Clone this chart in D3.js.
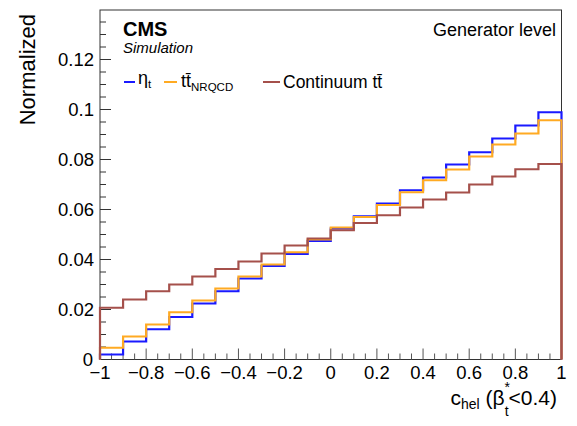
<!DOCTYPE html>
<html><head><meta charset="utf-8">
<script src="https://cdn.jsdelivr.net/npm/d3@7"></script>
<style>body{margin:0;background:#fff}svg{display:block;font-family:"Liberation Sans",Arial,sans-serif}</style>
</head><body><svg id="c" width="577" height="426"></svg>
<script>
const binEdges = d3.range(21).map(i => -1 + i * 0.1);
const etaT = [0.0020,0.0072,0.0121,0.0170,0.0224,0.0273,0.0324,0.0374,0.0422,0.0474,0.0524,0.0573,0.0624,0.0677,0.0728,0.0780,0.0829,0.0884,0.0936,0.0989];
const ttNRQCD = [0.0047,0.0092,0.0140,0.0189,0.0236,0.0284,0.0332,0.0380,0.0429,0.0480,0.0528,0.0570,0.0618,0.0669,0.0717,0.0760,0.0812,0.0860,0.0904,0.0957];
const continuum = [0.0207,0.0240,0.0273,0.0300,0.0332,0.0362,0.0392,0.0424,0.0456,0.0484,0.0517,0.0546,0.0577,0.0608,0.0640,0.0668,0.0700,0.0732,0.0761,0.0782];
const xTickLabels = ["\u22121","\u22120.8","\u22120.6","\u22120.4","\u22120.2","0","0.2","0.4","0.6","0.8","1"];
const yTickLabels = ["0","0.02","0.04","0.06","0.08","0.1","0.12"];

const svg = d3.select("#c");
const L = 100, R = 561.5, T = 10, B = 359.5;
const x = d3.scaleLinear().domain([-1, 1]).range([L, R]);
const y = d3.scaleLinear().domain([0, 0.1398]).range([B, T]);
const axisCol = "#333";

// frame
svg.append("rect").attr("x", L).attr("y", T).attr("width", R - L).attr("height", B - T)
  .attr("fill", "none").attr("stroke", axisCol).attr("stroke-width", 1);

// y ticks (inside)
const yMinor = d3.range(0, 0.1396, 0.005);
svg.append("g").selectAll("line").data(yMinor).join("line")
  .attr("x1", L).attr("x2", (d, i) => L + (i % 4 === 0 ? 11 : 6))
  .attr("y1", d => y(d)).attr("y2", d => y(d)).attr("stroke", axisCol).attr("stroke-width", 1);
svg.append("g").selectAll("text").data(yTickLabels).join("text")
  .attr("x", (d, i) => i === 0 ? 93 : 94).attr("y", (d, i) => y(i * 0.02) + (i === 0 ? 6.5 : 6.5))
  .attr("text-anchor", "end").attr("font-size", 18.5).attr("fill", "#000").text(d => d);

// x ticks (inside)
const xMinor = d3.range(0, 41).map(i => -1 + i * 0.05);
svg.append("g").selectAll("line").data(xMinor).join("line")
  .attr("x1", d => x(d)).attr("x2", d => x(d))
  .attr("y1", B).attr("y2", (d, i) => B - (i % 4 === 0 ? 11 : 6))
  .attr("stroke", "#555").attr("stroke-width", 1);
svg.append("g").selectAll("text").data(xTickLabels).join("text")
  .attr("x", (d, i) => x(-1 + i * 0.2)).attr("y", 378.5)
  .attr("text-anchor", "middle").attr("font-size", 18.5).attr("fill", "#000").text(d => d);

// histograms
function histPath(vals) {
  const p = d3.path();
  p.moveTo(x(binEdges[0]), y(0));
  vals.forEach((v, i) => {
    p.lineTo(x(binEdges[i]), y(v));
    p.lineTo(x(binEdges[i + 1]), y(v));
  });
  p.lineTo(x(binEdges[20]), y(0));
  return p.toString();
}
const series = [
  {vals: etaT, col: "#1a1aff"},
  {vals: ttNRQCD, col: "#ffaa22"},
  {vals: continuum, col: "#a5504b"}
];
svg.append("g").selectAll("path").data(series).join("path")
  .attr("d", d => histPath(d.vals)).attr("fill", "none")
  .attr("stroke", d => d.col).attr("stroke-width", 2.2);

// texts
svg.append("text").attr("x", 123).attr("y", 36).attr("font-size", 20).attr("font-weight", "bold").text("CMS");
svg.append("text").attr("x", 123).attr("y", 52.5).attr("font-size", 15).attr("font-style", "italic").text("Simulation");
svg.append("text").attr("x", 556).attr("y", 36).attr("font-size", 18).attr("text-anchor", "end").text("Generator level");

// legend
const lg = svg.append("g");
lg.append("line").attr("x1", 124).attr("x2", 135).attr("y1", 82).attr("y2", 82).attr("stroke", "#1a1aff").attr("stroke-width", 2);
lg.append("text").attr("x", 138).attr("y", 84).attr("font-size", 18).html('η<tspan font-size="11.5" dy="4">t</tspan>');
lg.append("line").attr("x1", 164).attr("x2", 177).attr("y1", 82).attr("y2", 82).attr("stroke", "#ffaa22").attr("stroke-width", 2);
lg.append("text").attr("x", 181).attr("y", 87).attr("font-size", 18).html('tt\u0304<tspan font-size="11.5" dy="4">NRQCD</tspan>');
lg.append("line").attr("x1", 263).attr("x2", 280).attr("y1", 82).attr("y2", 82).attr("stroke", "#a5504b").attr("stroke-width", 2);
lg.append("text").attr("x", 283).attr("y", 88).attr("font-size", 17.5).text("Continuum tt\u0304");

// axis titles
svg.append("text").attr("transform", "translate(34.5,14) rotate(-90)").attr("text-anchor", "end")
  .attr("font-size", 22).text("Normalized");
svg.append("text").attr("x", 557).attr("y", 405).attr("text-anchor", "end").attr("font-size", 21)
  .html('c<tspan font-size="14" dy="4">hel</tspan><tspan dy="-4"> (β</tspan><tspan font-size="14" dy="-13">*</tspan><tspan font-size="14" dy="24" dx="-5.4">t</tspan><tspan dy="-11">&lt;0.4)</tspan>');
</script></body></html>
